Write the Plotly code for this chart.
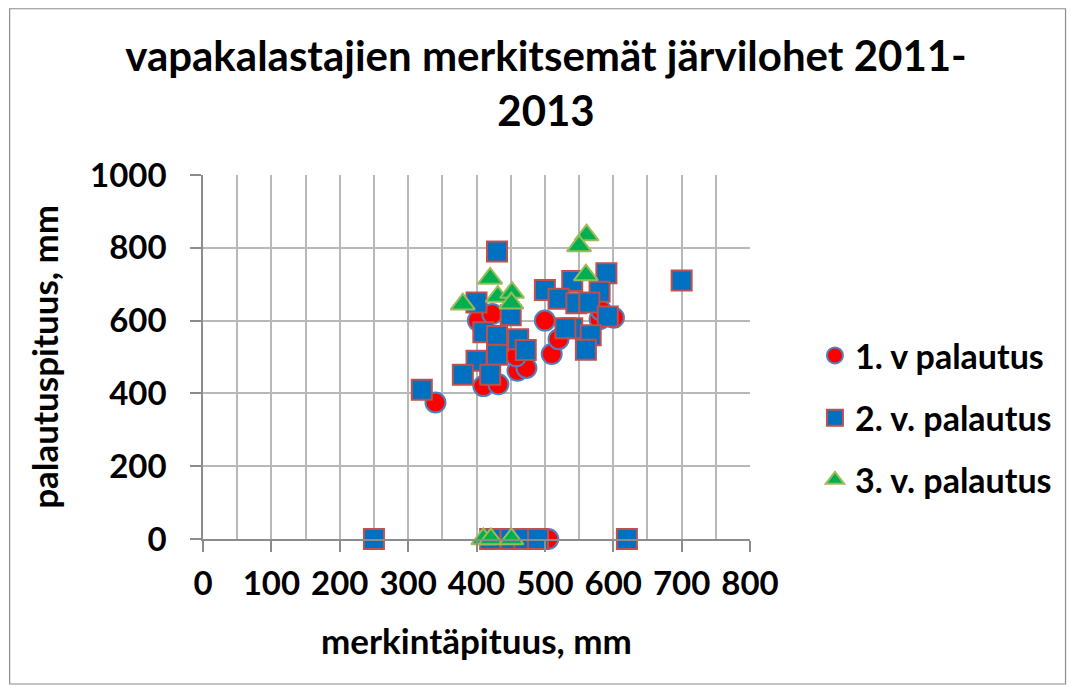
import plotly.graph_objects as go

# Series 1: "1. v palautus" (circles)
s1_x = [340, 410, 432, 460, 473, 458, 510, 520, 500, 402, 423, 580, 601, 582, 505]
s1_y = [375, 420, 425, 462, 470, 502, 508, 549, 600, 600, 618, 604, 608, 628, 0]

# Series 2: "2. v. palautus" (squares)
s2_x = [430, 700, 590, 540, 500, 580, 520, 546, 565, 400, 450, 592, 410, 430, 461,
        540, 530, 567, 560, 472, 400, 430, 380, 420, 320, 250, 620, 420, 450, 470, 490]
s2_y = [790, 710, 730, 709, 684, 679, 660, 648, 650, 650, 615, 611, 568, 558, 549,
        579, 579, 560, 520, 519, 490, 506, 451, 451, 410, 0, 0, 0, 0, 0, 0]

# Series 3: "3. v. palautus" (triangles)
s3_x = [561, 550, 560, 420, 380, 431, 452, 451, 410, 421, 451]
s3_y = [835, 805, 725, 716, 645, 666, 677, 648, 0, 0, 0]

names = ["1. v palautus", "2. v. palautus", "3. v. palautus"]
x_ticks = [0, 100, 200, 300, 400, 500, 600, 700, 800]
y_ticks = [0, 200, 400, 600, 800, 1000]

FONT = "Lato"
OFF = 8  # page body margin
W, H = 1060, 677
L, R, T, B = 194.5, 317, 167, 145.7
pw, ph = W - L - R, H - T - B


def px_x(p):
    # page pixel -> paper coordinate
    return (p - OFF - L) / pw


def px_y(p):
    return (H - B - (p - OFF)) / ph


fig = go.Figure()
fig.add_trace(go.Scatter(
    x=s1_x, y=s1_y, mode="markers", name=names[0], legendgroup="a",
    cliponaxis=False,
    marker=dict(symbol="circle", size=20, color="#FF0000",
                line=dict(color="#4F81BD", width=2))))
fig.add_trace(go.Scatter(
    x=s2_x, y=s2_y, mode="markers", name=names[1], legendgroup="b",
    cliponaxis=False,
    marker=dict(symbol="square", size=20, color="#0070C0",
                line=dict(color="#C0504D", width=2))))
fig.add_trace(go.Scatter(
    x=s3_x, y=s3_y, mode="markers", name=names[2], legendgroup="c",
    cliponaxis=False,
    marker=dict(symbol="triangle-up", size=21, color="#00B050",
                line=dict(color="#9BBB59", width=2))))

grid = "#b8b8b8"
axisc = "#8c8c8c"
fig.update_layout(
    width=W, height=H,
    margin=dict(l=L, r=R, t=T, b=B),
    paper_bgcolor="white", plot_bgcolor="white",
    font=dict(family=FONT, color="black"),
    title=dict(text="<b>vapakalastajien merkitsemät järvilohet 2011-<br>2013</b>",
               x=(546 - OFF) / W, xanchor="center", xref="container",
               y=1 - (71 - OFF) / H, yanchor="middle", yref="container",
               font=dict(family=FONT, size=42, color="black")),
    xaxis=dict(range=[0, 800], tickvals=x_ticks, showgrid=True, gridcolor=grid,
               gridwidth=1.5, showline=True, linecolor=axisc, linewidth=1.5,
               ticks="outside", ticklen=11, tickcolor=axisc, tickwidth=1.5,
               zeroline=False, ticklabelstandoff=4,
               minor=dict(dtick=50, showgrid=True, gridcolor=grid, gridwidth=1.5),
               tickfont=dict(family=FONT, size=33, color="black", weight="bold")),
    yaxis=dict(range=[0, 1000], tickvals=y_ticks, showgrid=True, gridcolor=grid,
               gridwidth=1.5, showline=True, linecolor=axisc, linewidth=1.5,
               ticks="outside", ticklen=11, tickcolor=axisc, tickwidth=1.5,
               zeroline=False, ticklabelstandoff=17,
               tickfont=dict(family=FONT, size=33, color="black", weight="bold")),
    legend=dict(x=px_x(815), y=px_y(327), xanchor="left", yanchor="top",
                tracegroupgap=15, itemsizing="trace",
                font=dict(family=FONT, size=34, color="black", weight="bold"),
                bgcolor="rgba(0,0,0,0)"),
    showlegend=True,
)

fig.add_annotation(text="<b>merkintäpituus, mm</b>", xref="paper", yref="paper",
                   x=px_x(477), y=px_y(640), xanchor="center", yanchor="middle",
                   showarrow=False, font=dict(family=FONT, size=35, color="black"))
fig.add_annotation(text="<b>palautuspituus, mm</b>", xref="paper", yref="paper",
                   x=px_x(43), y=px_y(357), xanchor="center", yanchor="middle",
                   textangle=-90, showarrow=False,
                   font=dict(family=FONT, size=35, color="black"))

fig.add_shape(type="rect", xref="paper", yref="paper",
              x0=px_x(8.6), x1=px_x(1067.4), y0=px_y(684.4), y1=px_y(8.6),
              line=dict(color="#8c8c8c", width=1.2), fillcolor="rgba(0,0,0,0)",
              layer="below")

fig.write_html("out.html")
